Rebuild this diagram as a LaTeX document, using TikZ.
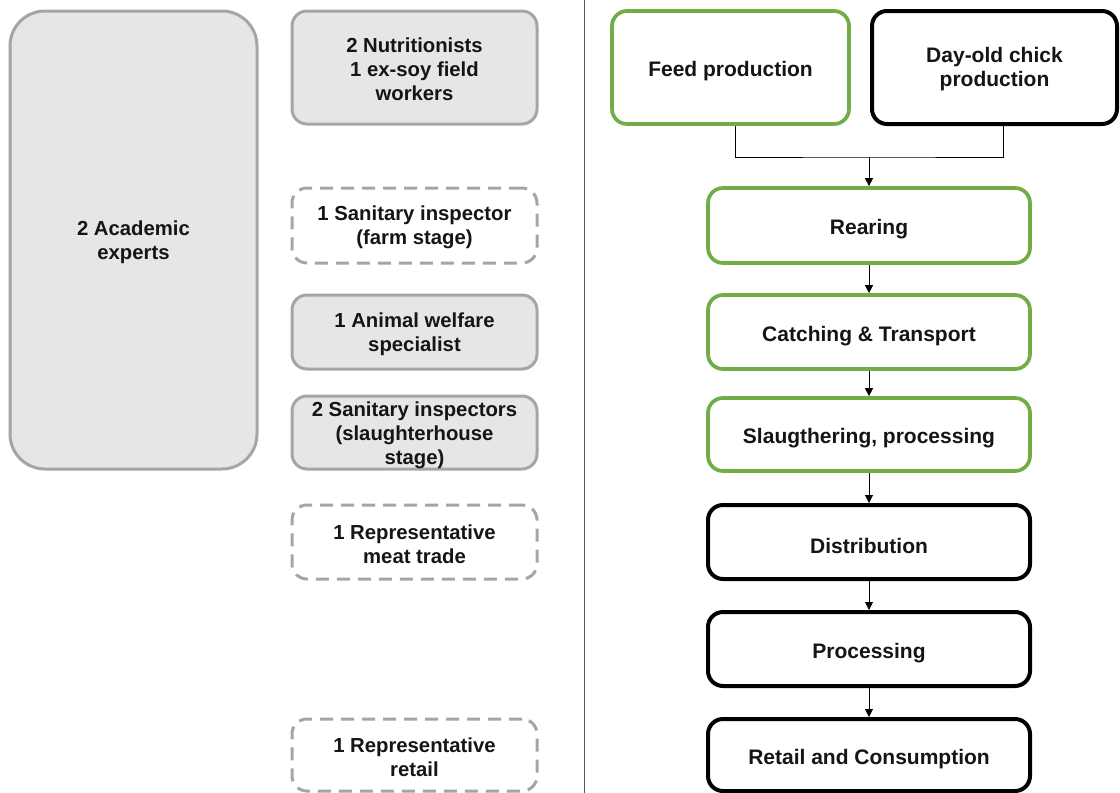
\documentclass[tikz,border=0pt]{standalone}
\usepackage{fontspec}
\setmainfont{Liberation Sans}
\usetikzlibrary{arrows.meta}
\definecolor{boxgray}{HTML}{E6E6E6}
\definecolor{edgegray}{HTML}{A5A5A5}
\definecolor{stagegreen}{HTML}{70AD47}
\definecolor{txt}{HTML}{151515}
\tikzset{
  base/.style={rectangle, rounded corners=15pt, inner sep=0pt},
  expert/.style={base, draw=edgegray, fill=boxgray, line width=3pt,
    minimum width=245pt},
  absent/.style={base, draw=edgegray, fill=white, line width=3pt,
    dash pattern=on 13pt off 8pt, minimum width=245pt},
  greenstage/.style={base, draw=stagegreen, fill=white, line width=3.7pt},
  blackstage/.style={base, draw=black, fill=white, line width=4pt},
  lefttext/.style={inner sep=0pt, align=center, text=txt,
    font=\fontsize{20.3}{24}\selectfont\bfseries},
  righttext/.style={inner sep=0pt, align=center, text=txt,
    font=\fontsize{21}{24}\selectfont\bfseries},
  flow/.style={draw=black, line width=0.9pt},
  flowarrow/.style={flow, -{Triangle[length=8pt,width=8pt]}}
}
\begin{document}
\begin{tikzpicture}[x=1pt,y=-1pt]
\useasboundingbox (0,0) rectangle (1120,793);
\fill[white] (0,0) rectangle (1120,793);

% experts consulted
\node[expert, rounded corners=35pt, minimum width=247pt, minimum height=458pt]
  (acad) at (133.5,240) {};
\node[expert, minimum height=113pt] (nutr) at (414.5,67.5) {};
\node[absent, minimum height=75pt] (san1) at (414.5,225.5) {};
\node[expert, minimum height=74pt] (anim) at (414.5,332) {};
\node[expert, minimum height=73pt] (san2) at (414.5,432.5) {};
\node[absent, minimum height=74pt] (meat) at (414.5,542) {};
\node[absent, minimum height=72pt] (retl) at (414.5,755) {};

\node[lefttext] (acad-t) at ([yshift=-2pt]acad.center) {2 Academic\\experts};
\node[lefttext] (nutr-t) at ([yshift=-2pt]nutr.center)
  {2 Nutritionists\\1 ex-soy field\\workers};
\node[lefttext] (san1-t) at ([yshift=-2pt]san1.center)
  {1 Sanitary inspector\\(farm stage)};
\node[lefttext] (anim-t) at ([yshift=-2pt]anim.center)
  {1 Animal welfare\\specialist};
\node[lefttext] (san2-t) at ([yshift=-3pt]san2.center)
  {2 Sanitary inspectors\\(slaughterhouse\\stage)};
\node[lefttext] (meat-t) at ([yshift=-2pt]meat.center)
  {1 Representative\\meat trade};
\node[lefttext] (retl-t) at ([yshift=-2pt]retl.center)
  {1 Representative\\retail};

% separator
\draw[black!65, line width=1pt] (584,0) -- (584,793);

% supply chain stages
\node[greenstage, minimum width=237pt, minimum height=113pt] (feed)
  at (730.5,67.5) {};
\node[blackstage, minimum width=245pt, minimum height=113pt] (chick)
  at (994.5,67.5) {};
\node[greenstage, minimum width=322pt, minimum height=75pt] (rear)
  at (869,225.5) {};
\node[greenstage, minimum width=322pt, minimum height=74pt] (catch)
  at (869,332) {};
\node[greenstage, minimum width=322pt, minimum height=73pt] (slau)
  at (869,434.5) {};
\node[blackstage, minimum width=322pt, minimum height=74pt] (dist)
  at (869,542) {};
\node[blackstage, minimum width=322pt, minimum height=74pt] (proc)
  at (869,649) {};
\node[blackstage, minimum width=322pt, minimum height=72pt] (ret)
  at (869,755) {};

\node[righttext] (feed-t) at ([yshift=-4pt]feed.center) {Feed production};
\node[righttext] (chick-t) at ([yshift=-2pt]chick.center)
  {Day-old chick\\production};
\node[righttext] (rear-t) at ([yshift=-4pt]rear.center) {Rearing};
\node[righttext] (catch-t) at ([yshift=-4pt]catch.center) {Catching \& Transport};
\node[righttext] (slau-t) at ([yshift=-4pt]slau.center) {Slaugthering, processing};
\node[righttext] (dist-t) at ([yshift=-4pt]dist.center) {Distribution};
\node[righttext] (proc-t) at ([yshift=-4pt]proc.center) {Processing};
\node[righttext] (ret-t) at ([yshift=-4pt]ret.center) {Retail and Consumption};

% connectors
\coordinate (join) at (869,157);
\draw[flow] ([xshift=4.5pt]feed.south) |- (join) -| ([xshift=8.5pt]chick.south);
\draw[flowarrow] (join) -- (rear.north);
\draw[flowarrow] (rear) -- (catch);
\draw[flowarrow] (catch) -- (slau);
\draw[flowarrow] (slau) -- (dist);
\draw[flowarrow] (dist) -- (proc);
\draw[flowarrow] (proc) -- (ret);
\end{tikzpicture}
\end{document}
